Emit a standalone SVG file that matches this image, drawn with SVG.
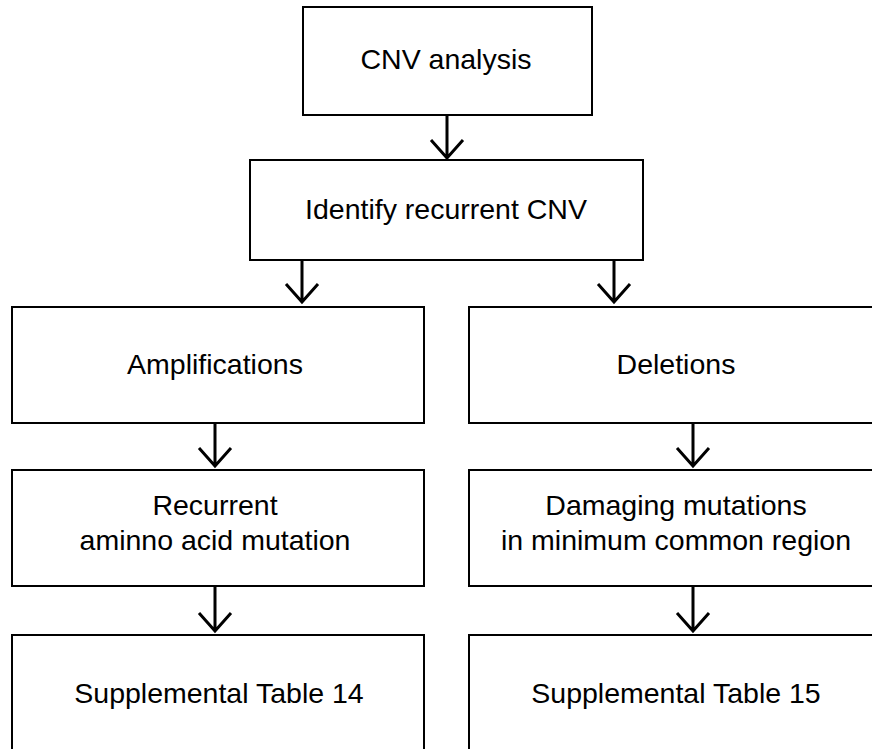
<svg xmlns="http://www.w3.org/2000/svg" width="872" height="749" viewBox="0 0 872 749">
<style>
.box{fill:#fff;stroke:#000;stroke-width:2}
.t{font-family:"Liberation Sans",Arial,Helvetica,sans-serif;font-size:28.5px;fill:#000;text-anchor:middle}
.c{fill:none;stroke:#000;stroke-width:3}
</style>
<rect width="872" height="749" fill="#fff"/>
<g id="n1"><rect class="box" x="303" y="7" width="289" height="108"/><text class="t" x="446" y="69">CNV analysis</text></g>
<g id="n2"><rect class="box" x="250" y="160" width="393" height="100"/><text class="t" x="446" y="219">Identify recurrent CNV</text></g>
<g id="n3"><rect class="box" x="12" y="307" width="412" height="116"/><text class="t" x="215" y="374">Amplifications</text></g>
<g id="n4"><rect class="box" x="469" y="307" width="420" height="116"/><text class="t" x="676" y="374">Deletions</text></g>
<g id="n5"><rect class="box" x="12" y="470" width="412" height="116"/><text class="t" x="215" y="515">Recurrent</text><text class="t" x="215" y="550">aminno acid mutation</text></g>
<g id="n6"><rect class="box" x="469" y="470" width="420" height="116"/><text class="t" x="676" y="515">Damaging mutations</text><text class="t" x="676" y="550">in minimum common region</text></g>
<g id="n7"><rect class="box" x="12" y="635" width="412" height="130"/><text class="t" x="219" y="703">Supplemental Table 14</text></g>
<g id="n8"><rect class="box" x="469" y="635" width="420" height="130"/><text class="t" x="676" y="703">Supplemental Table 15</text></g>
<g id="connectors">
<path class="c" d="M447 115V158M431 140L447 158L463 140"/>
<path class="c" d="M302 260V302M286 284L302 302L318 284"/>
<path class="c" d="M614 260V302M598 284L614 302L630 284"/>
<path class="c" d="M215 423V466M199 448L215 466L231 448"/>
<path class="c" d="M693 423V466M677 448L693 466L709 448"/>
<path class="c" d="M215 586V631M199 613L215 631L231 613"/>
<path class="c" d="M693 586V631M677 613L693 631L709 613"/>
</g>
</svg>
